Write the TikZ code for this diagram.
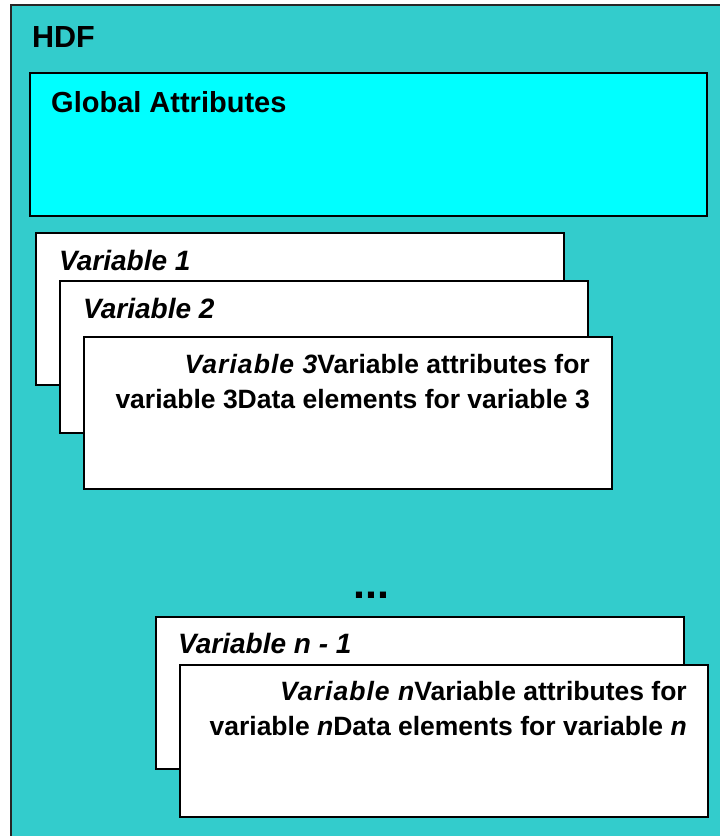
\documentclass[tikz,border=0pt]{standalone}
\usepackage{fontspec}
\setmainfont{Liberation Sans}
\usepackage{tikz}

\definecolor{hdfteal}{HTML}{33CCCC}
\definecolor{globcyan}{HTML}{00FFFF}

\newcommand{\slantpart}[1]{{\itshape\addfontfeatures{LetterSpace=4}#1}}

\begin{document}
\begin{tikzpicture}[x = 1pt, y = -1pt,
    outerbox/.style = {draw = black!85, line width = 1.5pt, fill = hdfteal},
    varbox/.style = {draw = black, line width = 1.5pt, fill = white,
        anchor = north west, minimum width = 528pt, minimum height = 152pt,
        inner sep = 0pt},
    title/.style = {anchor = base west, inner sep = 0pt,
        font = \fontsize{29}{34}\selectfont\bfseries},
    vartext/.style = {anchor = base west, inner sep = 0pt,
        font = \fontsize{28}{35}\selectfont\bfseries\itshape},
    bodytext/.style = {anchor = base east, inner sep = 0pt,
        font = \fontsize{26.5}{35}\selectfont\bfseries}]

                \useasboundingbox (0,0) rectangle (720,836);

                % the HDF file
                \draw [outerbox] (11,5) rectangle (740,860);
                \node [title, font = \fontsize{30.5}{34}\selectfont\bfseries]
                (hdf) at (32,47) {HDF};

                % global attributes
                \draw [draw = black, line width = 1.5pt, fill = globcyan]
                (30,73) rectangle (707,216);
                \node [title] (glob) at (51,112) {Global Attributes};

                % first variables
                \node [varbox] (var1) at (35,232) {};
                \node [vartext] (var1lbl) at (59,270) {Variable 1};

                \node [varbox] (var2) at (59,280) {};
                \node [vartext] (var2lbl) at (83,318) {Variable 2};

                \node [varbox] (var3) at (83,336) {};
                \node [bodytext] (var3top) at (590,373)
                {\slantpart{Variable 3}Variable attributes for};
                \node [bodytext] (var3bot) at (590,408)
                {variable 3Data elements for variable 3};

                \node [anchor = base west, inner sep = 0pt,
                font = \fontsize{43}{43}\selectfont\bfseries] (dots)
                at (353,598) {...};

                % last variables
                \node [varbox] (varm) at (155,616) {};
                \node [vartext] (varmlbl) at (178,653) {Variable n - 1};

                \node [varbox] (varn) at (179,664) {};
                \node [bodytext] (varntop) at (687,700)
                {\slantpart{Variable n}Variable attributes for};
                \node [bodytext] (varnbot) at (687,735)
                {variable \textit{n}Data elements for variable \textit{n}};

            \end{tikzpicture}
\end{document}
